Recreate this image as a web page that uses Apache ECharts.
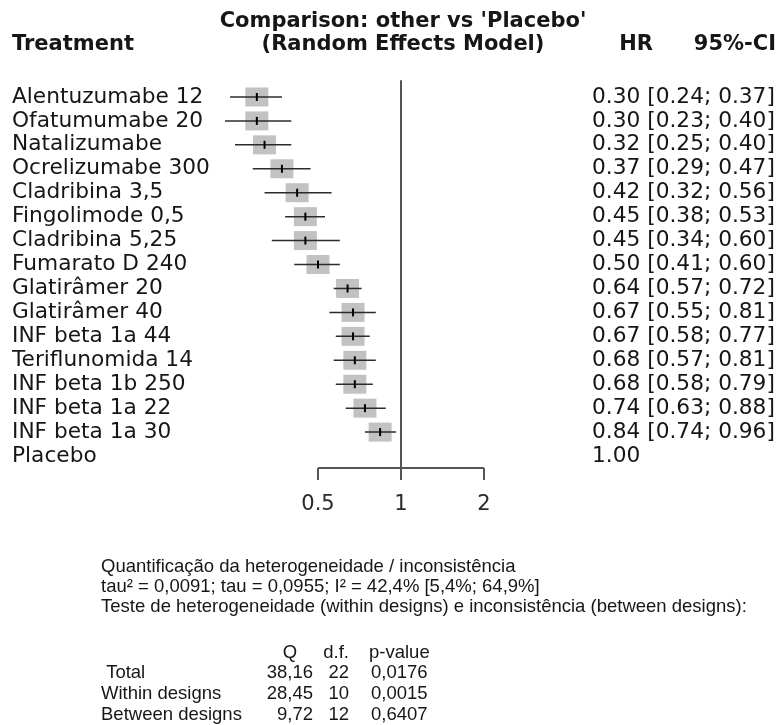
<!DOCTYPE html>
<html>
<head>
<meta charset="utf-8">
<script src="https://cdn.jsdelivr.net/npm/echarts@6/dist/echarts.min.js"></script>
<style>
  html, body { margin: 0; padding: 0; background: #fff; }
  #chart { width: 779px; height: 725px; }
</style>
</head>
<body>
<div id="chart"></div>
<script>
// Network meta-analysis forest plot: hazard ratios vs Placebo (random effects)
const treatments = ['Alentuzumabe 12', 'Ofatumumabe 20', 'Natalizumabe', 'Ocrelizumabe 300',
  'Cladribina 3,5', 'Fingolimode 0,5', 'Cladribina 5,25', 'Fumarato D 240', 'Glatirâmer 20',
  'Glatirâmer 40', 'INF beta 1a 44', 'Teriflunomida 14', 'INF beta 1b 250', 'INF beta 1a 22',
  'INF beta 1a 30', 'Placebo'];
const hr    = [0.30, 0.30, 0.32, 0.37, 0.42, 0.45, 0.45, 0.50, 0.64, 0.67, 0.67, 0.68, 0.68, 0.74, 0.84, 1.00];
const lower = [0.24, 0.23, 0.25, 0.29, 0.32, 0.38, 0.34, 0.41, 0.57, 0.55, 0.58, 0.57, 0.58, 0.63, 0.74, null];
const upper = [0.37, 0.40, 0.40, 0.47, 0.56, 0.53, 0.60, 0.60, 0.72, 0.81, 0.77, 0.81, 0.79, 0.88, 0.96, null];
const axisTicks = [0.5, 1, 2];

// Heterogeneity / inconsistency summary
const summaryLines = [
  'Quantificação da heterogeneidade / inconsistência',
  'tau² = 0,0091; tau = 0,0955; I² = 42,4% [5,4%; 64,9%]',
  'Teste de heterogeneidade (within designs) e inconsistência (between designs):'
];
const statHeader = ['Q', 'd.f.', 'p-value'];
const statRows = [' Total', 'Within designs', 'Between designs'];
const statQ  = ['38,16', '28,45', '9,72'];
const statDf = ['22', '10', '12'];
const statP  = ['0,0176', '0,0015', '0,6407'];

const BODY = '"DejaVu Sans", sans-serif';
const NOTE = '"Liberation Sans", Arial, sans-serif';
const ink = '#161616';

function ciText(i) {
  if (lower[i] == null) return hr[i].toFixed(2);
  return hr[i].toFixed(2) + ' [' + lower[i].toFixed(2) + '; ' + upper[i].toFixed(2) + ']';
}

const forestData = [];
treatments.forEach((t, i) => {
  if (lower[i] != null) forestData.push([hr[i], t, lower[i], upper[i]]);
});

function txt(text, x, y, font, align) {
  return {
    type: 'text', x: x, y: y, silent: true,
    style: { text: text, font: font, fill: ink, align: align || 'left', verticalAlign: 'middle',
             textAlign: align || 'left', textVerticalAlign: 'middle' }
  };
}

const graphics = [
  txt("Comparison: other vs 'Placebo'", 403, 22, 'bold 21px ' + BODY, 'center'),
  txt('(Random Effects Model)', 403, 45, 'bold 21px ' + BODY, 'center'),
  txt('Treatment', 12, 45, 'bold 21px ' + BODY, 'left'),
  txt('HR', 636, 45, 'bold 21px ' + BODY, 'center'),
  txt('95%-CI', 776, 45, 'bold 21px ' + BODY, 'right')
];
const noteFont = '18.5px ' + NOTE;
summaryLines.forEach((s, i) => graphics.push(txt(s, 101, 567 + i * 20, noteFont, 'left')));
graphics.push(txt(statHeader[0], 290, 653, noteFont, 'center'));
graphics.push(txt(statHeader[1], 349, 653, noteFont, 'right'));
graphics.push(txt(statHeader[2], 369, 653, noteFont, 'left'));
statRows.forEach((r, i) => {
  const y = 673 + i * 21;
  graphics.push(txt(r, 101, y, noteFont, 'left'));
  graphics.push(txt(statQ[i], 313, y, noteFont, 'right'));
  graphics.push(txt(statDf[i], 349, y, noteFont, 'right'));
  graphics.push(txt(statP[i], 371, y, noteFont, 'left'));
});

const chart = echarts.init(document.getElementById('chart'), null, { renderer: 'canvas' });
chart.setOption({
  animation: false,
  backgroundColor: '#fff',
  grid: { left: 152, right: 212, top: 85, height: 383 },
  xAxis: {
    type: 'log', logBase: 2, min: 0.125, max: 4,
    axisLine: { show: false },
    splitLine: { show: false },
    axisTick: { show: true, customValues: axisTicks, length: 12, lineStyle: { color: '#555', width: 2 } },
    axisLabel: { customValues: axisTicks, margin: 26, fontFamily: BODY, fontSize: 21, color: '#2a2a2a',
                 formatter: v => String(v) }
  },
  yAxis: [
    {
      type: 'category', data: treatments, inverse: true,
      axisLine: { show: false }, axisTick: { show: false }, splitLine: { show: false },
      axisLabel: { interval: 0, align: 'left', margin: 140, fontFamily: BODY, fontSize: 21.7, color: ink }
    },
    {
      type: 'category', data: treatments, inverse: true, position: 'right',
      axisLine: { show: false }, axisTick: { show: false }, splitLine: { show: false },
      axisLabel: { interval: 0, align: 'left', margin: 25, fontFamily: BODY, fontSize: 21.7, color: ink,
                   formatter: (v, i) => ciText(i) }
    }
  ],
  series: [
    {
      // reference line at HR = 1 and the axis baseline spanning the labelled ticks
      type: 'custom', silent: true, z: 1,
      data: [[1, treatments[0]]],
      renderItem: function (params, api) {
        const band = api.size([0, 1])[1];
        const top = api.coord([1, treatments[0]])[1] - band * 0.7;
        const bottom = api.coord([1, treatments[treatments.length - 1]])[1] + band / 2;
        const x1 = api.coord([1, treatments[0]])[0];
        const xa = api.coord([axisTicks[0], treatments[0]])[0];
        const xb = api.coord([axisTicks[axisTicks.length - 1], treatments[0]])[0];
        return {
          type: 'group', children: [
            { type: 'line', shape: { x1: x1, y1: top, x2: x1, y2: bottom }, style: { stroke: '#555', lineWidth: 2 } },
            { type: 'line', shape: { x1: xa, y1: bottom, x2: xb, y2: bottom }, style: { stroke: '#555', lineWidth: 2 } }
          ]
        };
      }
    },
    {
      // pooled estimates: grey box, confidence interval and point mark
      type: 'custom', silent: true, z: 2,
      encode: { x: 0, y: 1 },
      data: forestData,
      renderItem: function (params, api) {
        const cat = api.value(1);
        const c = api.coord([api.value(0), cat]);
        const lo = api.coord([api.value(2), cat]);
        const hi = api.coord([api.value(3), cat]);
        return {
          type: 'group', children: [
            { type: 'rect', shape: { x: c[0] - 11.5, y: c[1] - 9.5, width: 23, height: 19 }, style: { fill: '#c2c2c2' } },
            { type: 'line', shape: { x1: lo[0], y1: c[1], x2: hi[0], y2: c[1] }, style: { stroke: '#2b2b2b', lineWidth: 1.5 } },
            { type: 'line', shape: { x1: c[0], y1: c[1] - 4, x2: c[0], y2: c[1] + 4 }, style: { stroke: '#000', lineWidth: 2 } }
          ]
        };
      }
    }
  ],
  graphic: graphics
});
</script>
</body>
</html>
